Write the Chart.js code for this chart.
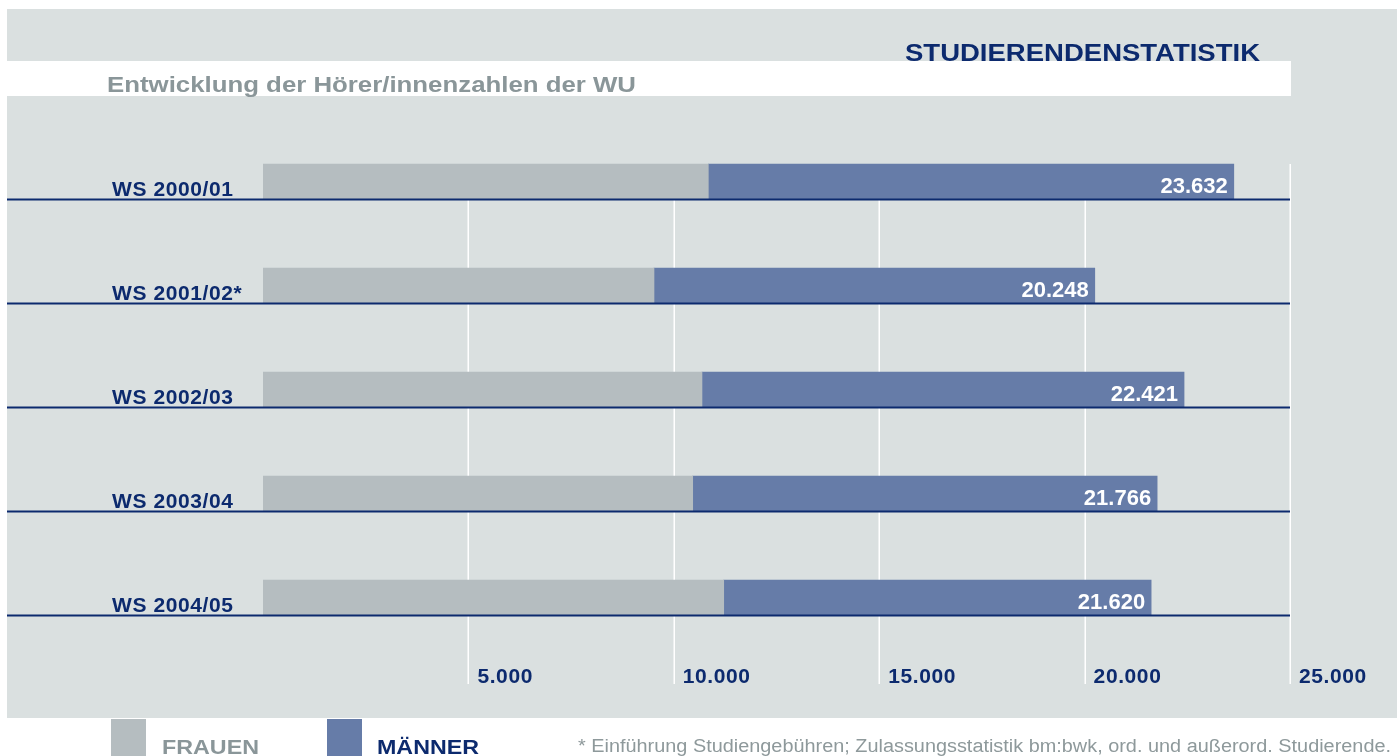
<!DOCTYPE html>
<html>
<head>
<meta charset="utf-8">
<script src="https://cdn.jsdelivr.net/npm/chart.js@4.4.1/dist/chart.umd.min.js"></script>
<style>
  html, body { margin: 0; padding: 0; background: #ffffff; }
  #wrap { width: 1397px; height: 756px; position: relative; }
  canvas { display: block; }
</style>
</head>
<body>
<div id="wrap"><canvas id="c" width="1397" height="756"></canvas></div>
<script>
// ---- data ----
const categories = ["WS 2000/01", "WS 2001/02*", "WS 2002/03", "WS 2003/04", "WS 2004/05"];
const frauen  = [10840, 9518, 10686, 10460, 11215];
const maenner = [12792, 10730, 11735, 11306, 10405];
const totals  = [23632, 20248, 22421, 21766, 21620];
const xTicks  = [5000, 10000, 15000, 20000, 25000];
const titleText = "STUDIERENDENSTATISTIK";
const subtitleText = "Entwicklung der Hörer/innenzahlen der WU";
const legendLabels = ["FRAUEN", "MÄNNER"];
const footnoteText = "* Einführung Studiengebühren; Zulassungsstatistik bm:bwk, ord. und außerord. Studierende.";

// ---- styles ----
const FONT = "'Liberation Sans', Arial, Helvetica, sans-serif";
const BG_GRAY = "#dae0e0";
const C_FRAUEN = "#b5bdc0";
const C_MAENNER = "#667ca8";
const NAVY = "#0c2a6e";
const TXT_GRAY = "#8a9699";

function fmt(v) {
  return String(v).replace(/\B(?=(\d{3})+(?!\d))/g, ".");
}

function hasLS(ctx) { return 'letterSpacing' in ctx; }

// draws text stretched horizontally so that it spans targetW
function fitText(ctx, text, x, y, font, color, targetW) {
  ctx.save();
  ctx.font = font;
  ctx.fillStyle = color;
  ctx.textAlign = "left";
  ctx.textBaseline = "alphabetic";
  if (hasLS(ctx)) ctx.letterSpacing = "0px";
  const w = ctx.measureText(text).width;
  ctx.translate(x, y);
  ctx.scale(targetW / w, 1);
  ctx.fillText(text, 0, 0);
  ctx.restore();
}

const decoPlugin = {
  id: "deco",
  beforeDraw(chart) {
    const ctx = chart.ctx;
    const W = chart.width, H = chart.height;
    ctx.save();
    ctx.fillStyle = "#ffffff";
    ctx.fillRect(0, 0, W, H);
    // gray page panel
    ctx.fillStyle = BG_GRAY;
    ctx.fillRect(7, 9, W - 7, 709);
    // white subtitle band
    ctx.fillStyle = "#ffffff";
    ctx.fillRect(0, 61, 1291, 35);
    // title
    fitText(ctx, titleText, 905, 60.5, "bold 24px " + FONT, NAVY, 355);
    fitText(ctx, subtitleText, 107, 92, "bold 22px " + FONT, TXT_GRAY, 529);
    // legend panel
    ctx.fillStyle = "#ffffff";
    ctx.fillRect(111, 718, W - 111, H - 718);
    ctx.fillStyle = C_FRAUEN;
    ctx.fillRect(111, 719, 35, H - 719);
    ctx.fillStyle = C_MAENNER;
    ctx.fillRect(327, 719, 35, H - 719);
    fitText(ctx, legendLabels[0], 162, 753.5, "bold 21px " + FONT, TXT_GRAY, 97);
    fitText(ctx, legendLabels[1], 377, 753.5, "bold 21px " + FONT, NAVY, 102);
    fitText(ctx, footnoteText, 578, 752, "18px " + FONT, "#8e999b", 813);
    ctx.restore();
    if (hasLS(ctx)) ctx.letterSpacing = "0.6px";
  },
  beforeDatasetsDraw(chart) {
    const ctx = chart.ctx;
    if (hasLS(ctx)) ctx.letterSpacing = "0px";
    const xs = chart.scales.x, ys = chart.scales.y;
    const top = ys.getPixelForValue(0) - 17.5;
    const bottom = chart.chartArea.bottom + 34.5;
    ctx.save();
    ctx.strokeStyle = "#ffffff";
    ctx.lineWidth = 1.5;
    xTicks.forEach(v => {
      const px = Math.round(xs.getPixelForValue(v)) + 0.25;
      ctx.beginPath();
      ctx.moveTo(px, top);
      ctx.lineTo(px, bottom);
      ctx.stroke();
    });
    ctx.restore();
  },
  afterDatasetsDraw(chart) {
    const ctx = chart.ctx;
    const xs = chart.scales.x;
    const meta = chart.getDatasetMeta(1);
    ctx.save();
    // navy baseline rules under each category
    ctx.fillStyle = NAVY;
    meta.data.forEach(el => {
      ctx.fillRect(7, el.y + 17, xs.getPixelForValue(25000) - 7, 2);
    });
    // total value labels
    ctx.fillStyle = "#ffffff";
    ctx.font = "bold 22px " + FONT;
    ctx.textAlign = "right";
    ctx.textBaseline = "alphabetic";
    meta.data.forEach((el, i) => {
      ctx.fillText(fmt(totals[i]), el.x - 6, el.y + 11.5);
    });
    ctx.restore();
  }
};

new Chart(document.getElementById("c"), {
  type: "bar",
  data: {
    labels: categories,
    datasets: [
      { label: legendLabels[0], data: frauen, backgroundColor: C_FRAUEN, barThickness: 35, borderWidth: 0 },
      { label: legendLabels[1], data: maenner, backgroundColor: C_MAENNER, barThickness: 35, borderWidth: 0 }
    ]
  },
  options: {
    indexAxis: "y",
    responsive: false,
    animation: false,
    devicePixelRatio: 1,
    layout: { padding: { left: 112, right: 107, top: 129.5, bottom: 0 } },
    plugins: { legend: { display: false }, tooltip: { enabled: false } },
    scales: {
      x: {
        stacked: true,
        min: 0,
        max: 25000,
        border: { display: false },
        grid: { display: false, drawTicks: false },
        ticks: {
          stepSize: 5000,
          autoSkip: false,
          maxRotation: 0,
          align: "start",
          labelOffset: 9,
          padding: 15,
          color: NAVY,
          font: { family: FONT, size: 21, weight: "bold" },
          callback: v => (v === 0 ? "" : fmt(v))
        },
        afterFit: s => { s.height = 106.5; s.paddingLeft = 0; s.paddingRight = 0; }
      },
      y: {
        stacked: true,
        border: { display: false },
        grid: { display: false, drawTicks: false },
        ticks: {
          crossAlign: "far",
          labelOffset: 9,
          padding: 0,
          color: NAVY,
          font: { family: FONT, size: 21, weight: "bold" }
        },
        afterFit: s => { s.width = 151; s.paddingTop = 0; s.paddingBottom = 0; }
      }
    }
  },
  plugins: [decoPlugin]
});
</script>
</body>
</html>
